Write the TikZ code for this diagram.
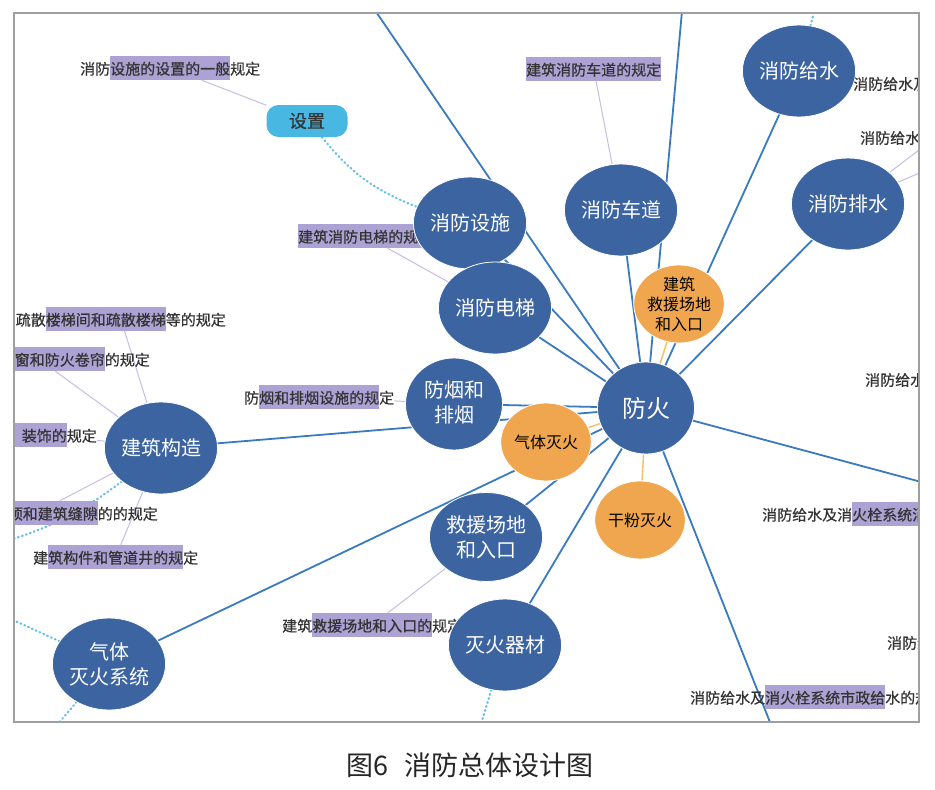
\documentclass[tikz,border=0pt]{standalone}
\usepackage{fontspec}
\setmainfont{Noto Sans CJK SC}
\newfontfamily\lblfont[FakeBold=0.6]{Noto Sans CJK SC}
\usetikzlibrary{shapes.geometric,backgrounds}

\definecolor{nodeblue}{RGB}{59,100,160}
\definecolor{nodeorange}{RGB}{240,166,78}
\definecolor{tagcyan}{RGB}{72,183,226}
\definecolor{hlpurple}{RGB}{172,162,212}
\definecolor{linkblue}{RGB}{58,122,192}
\definecolor{linkorange}{RGB}{246,190,100}
\definecolor{linelav}{RGB}{198,190,228}
\definecolor{dotcyan}{RGB}{100,190,235}

% purple marker behind part of a rule text
\newcommand{\hlrun}[1]{{\setlength{\fboxsep}{0pt}\colorbox{hlpurple}{\rule[-5.5pt]{0pt}{24pt}#1}}}

\tikzset{
  topic/.style={ellipse, fill=nodeblue, draw=white, line width=0.8pt, minimum width=97pt, minimum height=92pt,
    inner sep=0pt, text=white, align=center, font=\fontsize{20pt}{25pt}\selectfont},
  subtopic/.style={ellipse, fill=nodeorange, draw=white, line width=0.8pt, minimum width=82pt, minimum height=78pt,
    inner sep=0pt, text=black, align=center, font=\fontsize{16pt}{20pt}\selectfont},
  tagbox/.style={rectangle, rounded corners=12pt, fill=tagcyan, minimum width=81pt, minimum height=32pt,
    inner sep=0pt, text=black!80, font=\lblfont\fontsize{18pt}{20pt}\selectfont},
  note/.style={inner sep=0pt, text=black!80, font=\lblfont\fontsize{15pt}{18pt}\selectfont},
  link/.style={draw=linkblue, line width=1.8pt},
  sublink/.style={draw=linkorange, line width=1.4pt},
  notelink/.style={draw=linelav, line width=1pt},
  dotlink/.style={draw=dotcyan, line width=2.2pt, line cap=round, dash pattern=on 0.8pt off 3.4pt},
}

\begin{document}
\begin{tikzpicture}[x=1pt,y=-1pt]
\useasboundingbox (0,0) rectangle (935,790);

% free ends outside the frame
\coordinate (offTopLeft) at (368,0);
\coordinate (offTop) at (683,0);
\coordinate (offBottom) at (777,740);
\coordinate (offRight) at (940,487);
\coordinate (offSupplyUp) at (817,0);
\coordinate (offDrainA) at (940,134);
\coordinate (offDrainB) at (940,164);
\coordinate (offStructLeft) at (0,543);
\coordinate (offGasLeft) at (0,614);
\coordinate (offGasDown) at (40,745);
\coordinate (offToolDown) at (470,760);

\begin{scope}
  \clip (14,13) rectangle (919,722);
  % rule texts
  \node[note, anchor=west] (lbSetRule) at (80,68) {消防\hlrun{设施的设置的一般}规定};
  \node[note, anchor=west] (lbRoadRule) at (526,69) {\hlrun{建筑消防车道的规定}};
  \node[note, anchor=west] (lbLiftRule) at (298,236) {\hlrun{建筑消防电梯的规定}};
  \node[note, anchor=west] (lbSmokeRule) at (244,397) {防\hlrun{烟和排烟设施的规}定};
  \node[note, anchor=east] (lbStair) at (226,319) {疏散\hlrun{楼梯间和疏散楼梯}等的规定};
  \node[note, anchor=east] (lbWin) at (150,359) {\hlrun{窗和防火卷帘}的规定};
  \node[note, anchor=east] (lbDeco) at (97,435) {\hlrun{\hspace{12pt}装饰的}规定};
  \node[note, anchor=east] (lbGap) at (158,513) {\hlrun{顶和建筑缝隙}的的规定};
  \node[note, anchor=west] (lbShaft) at (33,557) {建\hlrun{筑构件和管道井的规}定};
  \node[note, anchor=west] (lbRescueRule) at (282,625) {建筑\hlrun{救援场地和入口的}规定};
  \node[note, anchor=west] (lbHydrant) at (762,514) {消防给水及消\hlrun{火栓系统消}};
  \node[note, anchor=west] (lbMunicipal) at (690,697) {消防给水及\hlrun{消火栓系统市政给}水的规};
  \node[note, anchor=west] (lbSupplyA) at (853,84) {消防给水及};
  \node[note, anchor=west] (lbSupplyB) at (860,138) {消防给水};
  \node[note, anchor=west] (lbSupplyC) at (865,380) {消防给水};
  \node[note, anchor=west] (lbSupplyD) at (887,643) {消防给};
\end{scope}

% topics
\node[tagbox] (setTag) at (307,121) {设置};
\node[topic] (facility) at (470,223) {消防设施};
\node[topic] (road) at (621,210) {消防车道};
\node[topic] (supply) at (799,71) {消防给水};
\node[topic] (drain) at (848,204) {消防排水};
\node[topic] (lift) at (495,308) {消防电梯};
\node[topic, text depth=4pt] (smoke) at (454,404) {防烟和\\排烟};
\node[topic] (structure) at (161,448) {建筑构造};
\node[topic] (gasSys) at (109,664) {气体\\灭火系统};
\node[topic, minimum width=95pt, minimum height=89pt] (rescue) at (486,537) {救援场地\\和入口};
\node[topic] (extinguisher) at (505,645) {灭火器材};
\node[subtopic] (siteRescue) at (679,304) {建筑\\救援场地\\和入口};
\node[subtopic] (gasExt) at (546,442) {气体灭火};
\node[subtopic] (powder) at (640,520) {干粉灭火};
\node[topic, font=\fontsize{24pt}{28pt}\selectfont] (fire) at (646,408) {防火};

\begin{scope}[on background layer]
  \fill[white] (0,0) rectangle (935,790);
  \clip (14,13) rectangle (919,722);
  \foreach \n in {offTopLeft, facility, lift, smoke, structure, gasSys, rescue, extinguisher,
                  offBottom, offRight, drain, supply, offTop, road}
    \draw[link] (fire.center) -- (\n.center);
  \foreach \n in {siteRescue, gasExt, powder}
    \draw[sublink] (fire) -- (\n);
  % rules
  \draw[notelink] (lbSetRule) -- (setTag);
  \draw[notelink] (lbRoadRule) -- (road);
  \draw[notelink] (lbLiftRule) -- (lift);
  \draw[notelink] (lbSmokeRule) -- (smoke);
  \draw[notelink] (lbStair) -- (structure);
  \draw[notelink] ([xshift=-27pt]lbWin.south) -- (structure);
  \draw[notelink] (lbDeco) -- (structure);
  \draw[notelink] ([xshift=-23pt]lbGap.north) -- (structure);
  \draw[notelink] (lbShaft) -- (structure);
  \draw[notelink] (lbRescueRule) -- (rescue);
  \draw[notelink] (drain) -- (offDrainA);
  \draw[notelink] (drain) -- (offDrainB);
  % dotted branches
  \draw[dotlink] (setTag) to[bend right=15] (facility);
  \draw[dotlink] (supply) -- (offSupplyUp);
  \draw[dotlink] (structure) to[bend left=10] (offStructLeft);
  \draw[dotlink] (gasSys) -- (offGasLeft);
  \draw[dotlink] (gasSys) -- (offGasDown);
  \draw[dotlink] (extinguisher) -- (offToolDown);
\end{scope}

\draw[gray!75, line width=1.5pt] (14,13) rectangle (919,722);
\node[text=black!85, font=\fontsize{27pt}{30pt}\selectfont] (caption) at (470,765) {图6\hspace{16pt}消防总体设计图};
\end{tikzpicture}
\end{document}
